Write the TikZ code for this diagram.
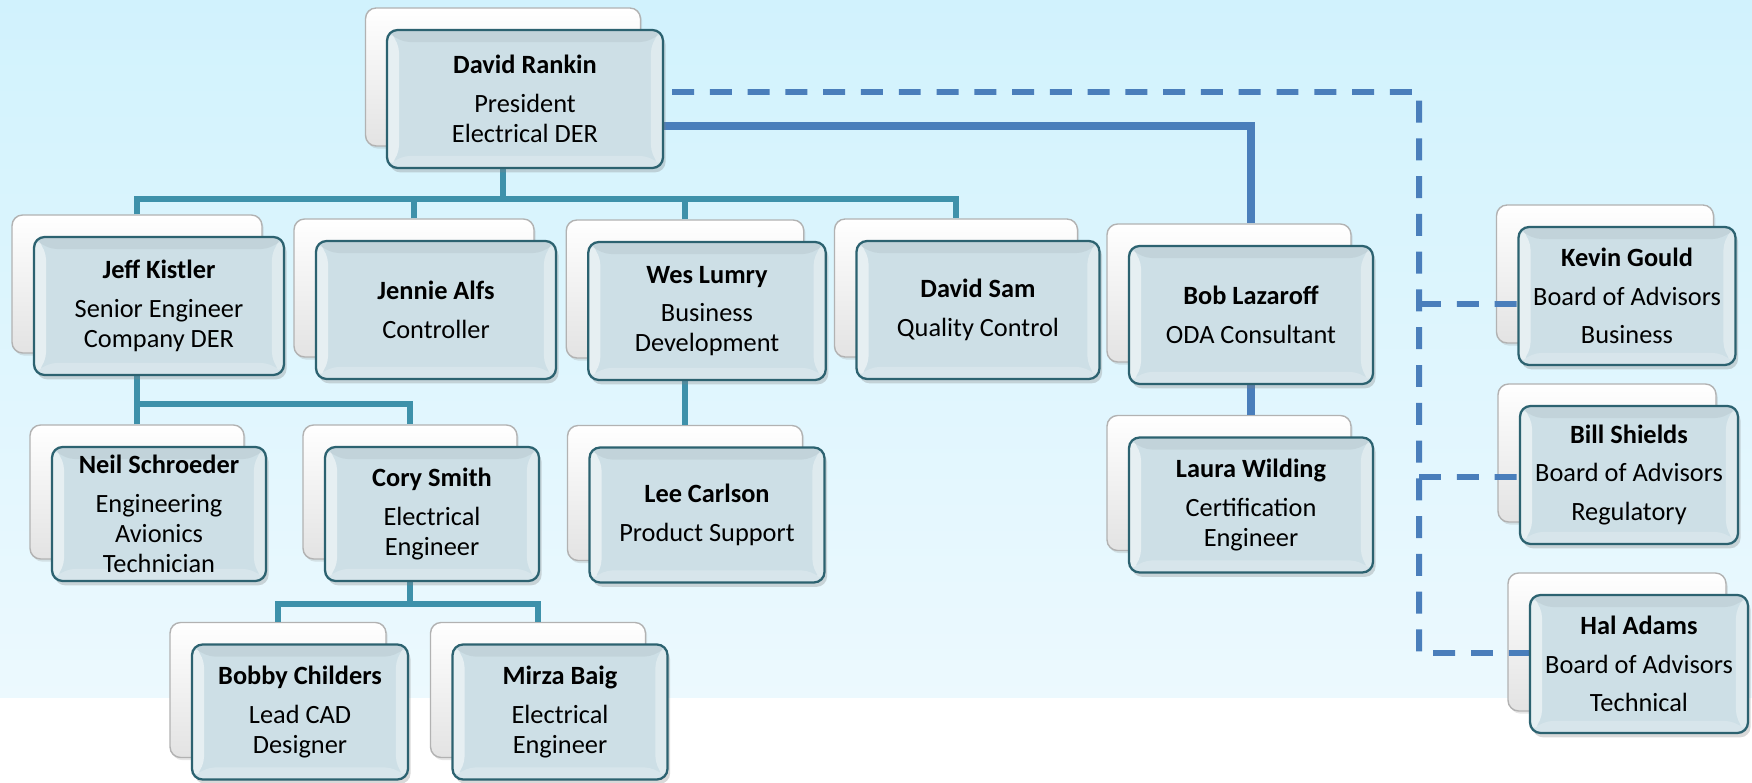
\documentclass[tikz,border=0pt]{standalone}
\usepackage{fontspec}
\setmainfont{Carlito}
\usepackage{xcolor}
\usetikzlibrary{shadows,calc}
\pgfdeclarelayer{bg}
\pgfdeclarelayer{mid}
\pgfsetlayers{bg,mid,main}
\definecolor{skytop}{RGB}{209,242,253}
\definecolor{skybot}{RGB}{236,249,254}
\definecolor{boxfill}{RGB}{205,223,230}
\definecolor{boxline}{RGB}{44,98,112}
\definecolor{orgteal}{RGB}{62,145,170}
\definecolor{orgblue}{RGB}{74,126,187}

\begin{document}
\begin{tikzpicture}[x = .02cm, y = -.02cm,
    frontbox/.style = {rectangle, rounded corners = 6pt, draw = boxline, line width = 1.3pt,
        fill = boxfill, minimum height = 2.76cm, inner sep = 1pt, align = center,
        font = \fontsize{15}{17}\selectfont,
        drop shadow = {shadow xshift = 1.5pt, shadow yshift = -2.5pt, opacity = .3},
        path picture = {
            \fill[white, opacity = .5] (path picture bounding box.north west)
                -- ([shift = {(.24cm,-.24cm)}]path picture bounding box.north west)
                -- ([shift = {(.24cm,.24cm)}]path picture bounding box.south west)
                -- (path picture bounding box.south west) -- cycle;
            \fill[white, opacity = .35] (path picture bounding box.north east)
                -- ([shift = {(-.24cm,-.24cm)}]path picture bounding box.north east)
                -- ([shift = {(-.24cm,.24cm)}]path picture bounding box.south east)
                -- (path picture bounding box.south east) -- cycle;
            \fill[black, opacity = .05] (path picture bounding box.north west)
                -- ([shift = {(.24cm,-.24cm)}]path picture bounding box.north west)
                -- ([shift = {(-.24cm,-.24cm)}]path picture bounding box.north east)
                -- (path picture bounding box.north east) -- cycle;
            \fill[white, opacity = .2] (path picture bounding box.south west)
                -- ([shift = {(.24cm,.24cm)}]path picture bounding box.south west)
                -- ([shift = {(-.24cm,.24cm)}]path picture bounding box.south east)
                -- (path picture bounding box.south east) -- cycle;
        }},
    backbox/.style = {rectangle, rounded corners = 6pt, draw = black!30, line width = .8pt,
        top color = white, bottom color = black!11, minimum height = 2.76cm,
        drop shadow = {shadow xshift = 1pt, shadow yshift = -1.5pt, opacity = .2}},
    tealline/.style = {draw = orgteal, line width = 3.2pt},
    blueline/.style = {draw = orgblue, line width = 4.5pt},
    dashline/.style = {draw = orgblue, line width = 3.4pt, dash pattern = on 12.5pt off 9pt}]

    \useasboundingbox (0,0) rectangle (1752,783);

    \begin{pgfonlayer}{bg}
    \fill[top color = skytop, bottom color = skybot] (0,0) rectangle (1752,698);
    % Back cards
    \node[backbox, minimum width = 5.5cm] (rankinB) at (503,77) {};
    \node[backbox, minimum width = 5cm] (kistlerB) at (137,284) {};
    \node[backbox, minimum width = 4.8cm] (alfsB) at (414,288) {};
    \node[backbox, minimum width = 4.75cm] (lumryB) at (685,289) {};
    \node[backbox, minimum width = 4.86cm] (samB) at (956,288) {};
    \node[backbox, minimum width = 4.88cm] (lazaroffB) at (1229,293) {};
    \node[backbox, minimum width = 4.28cm, minimum height = 2.68cm] (schroederB) at (137,492) {};
    \node[backbox, minimum width = 4.28cm, minimum height = 2.68cm] (smithB) at (410,492) {};
    \node[backbox, minimum width = 4.7cm, minimum height = 2.7cm] (carlsonB) at (685,493) {};
    \node[backbox, minimum width = 4.88cm, minimum height = 2.7cm] (wildingB) at (1229,483) {};
    \node[backbox, minimum width = 4.32cm, minimum height = 2.7cm] (childersB) at (278,690) {};
    \node[backbox, minimum width = 4.3cm, minimum height = 2.7cm] (baigB) at (538,690) {};
    \node[backbox, minimum width = 4.34cm] (gouldB) at (1605,274) {};
    \node[backbox, minimum width = 4.36cm] (shieldsB) at (1607,453) {};
    \node[backbox, minimum width = 4.36cm] (adamsB) at (1617,642) {};
    \end{pgfonlayer}

    % Front cards
    \node[frontbox, minimum width = 5.52cm] (rankin) at (525,99) {\textbf{David Rankin}\\[5pt]President\\Electrical DER};
    \node[frontbox, minimum width = 5cm] (kistler) at (159,306) {\textbf{Jeff Kistler}\\[5pt]Senior Engineer\\Company DER};
    \node[frontbox, minimum width = 4.8cm] (alfs) at (436,310) {\textbf{Jennie Alfs}\\[5pt]Controller};
    \node[frontbox, minimum width = 4.75cm] (lumry) at (707,311) {\textbf{Wes Lumry}\\[5pt]Business\\Development};
    \node[frontbox, minimum width = 4.86cm] (sam) at (978,310) {\textbf{David Sam}\\[5pt]Quality Control};
    \node[frontbox, minimum width = 4.88cm] (lazaroff) at (1251,315) {\textbf{Bob Lazaroff}\\[5pt]ODA Consultant};
    \node[frontbox, minimum width = 4.28cm, minimum height = 2.68cm] (schroeder) at (159,514) {\textbf{Neil Schroeder}\\[5pt]Engineering\\Avionics\\Technician};
    \node[frontbox, minimum width = 4.28cm, minimum height = 2.68cm] (smith) at (432,514) {\textbf{Cory Smith}\\[5pt]Electrical\\Engineer};
    \node[frontbox, minimum width = 4.7cm, minimum height = 2.7cm] (carlson) at (707,515) {\textbf{Lee Carlson}\\[5pt]Product Support};
    \node[frontbox, minimum width = 4.88cm, minimum height = 2.7cm] (wilding) at (1251,505) {\textbf{Laura Wilding}\\[5pt]Certification\\Engineer};
    \node[frontbox, minimum width = 4.32cm, minimum height = 2.7cm] (childers) at (300,712) {\textbf{Bobby Childers}\\[5pt]Lead CAD\\Designer};
    \node[frontbox, minimum width = 4.3cm, minimum height = 2.7cm] (baig) at (560,712) {\textbf{Mirza Baig}\\[5pt]Electrical\\Engineer};
    \node[frontbox, minimum width = 4.34cm] (gould) at (1627,296) {\textbf{Kevin Gould}\\[5pt]Board of Advisors\\[5pt]Business};
    \node[frontbox, minimum width = 4.36cm] (shields) at (1629,475) {\textbf{Bill Shields}\\[5pt]Board of Advisors\\[5pt]Regulatory};
    \node[frontbox, minimum width = 4.36cm] (adams) at (1639,664) {\textbf{Hal Adams}\\[5pt]Board of Advisors\\[5pt]Technical};

    \begin{pgfonlayer}{mid}
    % Reporting lines
    \path (rankinB.center |- 0,199) coordinate (topbus);
    \draw[tealline] (rankinB.center) -- (topbus);
    \draw[tealline] (kistlerB.north) |- (topbus) -| (samB.north);
    \draw[tealline] (alfsB.north) -- (alfsB.north |- topbus);
    \draw[tealline] (lumryB.north) -- (lumryB.north |- topbus);
    \path (kistlerB.center |- 0,404) coordinate (jeffbus);
    \draw[tealline] (kistlerB.center) -- (jeffbus);
    \draw[tealline] (schroederB.north) |- (jeffbus) -| (smithB.north);
    \draw[tealline] (lumryB.center) -- (carlsonB.north);
    \path (smithB.center |- 0,604) coordinate (corybus);
    \draw[tealline] (smithB.center) -- (corybus);
    \draw[tealline] (childersB.north) |- (corybus) -| (baigB.north);
    % Consultant line
    \draw[blueline] ([yshift = -.54cm]rankin.east) -| (lazaroff.north |- lazaroffB.north);
    \draw[blueline] (lazaroff.south) -- (lazaroff.south |- wildingB.north);
    % Advisory board
    \path (1419,0) coordinate (spine);
    \draw[dashline] ([xshift = .16cm, yshift = .14cm]rankin.east) -| (spine |- 0,653) -- ([yshift = .22cm]adams.west);
    \draw[dashline] (spine |- 0,304) -- ([yshift = -.16cm]gould.west);
    \draw[dashline] (spine |- 0,477) -- ([yshift = -.04cm]shields.west);
    \end{pgfonlayer}
\end{tikzpicture}
\end{document}
